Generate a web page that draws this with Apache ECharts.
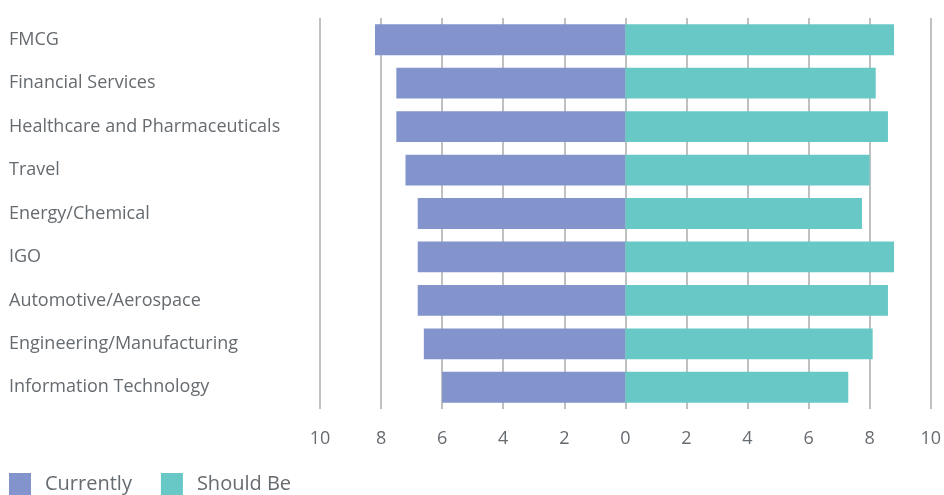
<!DOCTYPE html>
<html>
<head>
<meta charset="utf-8">
<script src="https://cdn.jsdelivr.net/npm/echarts@6/dist/echarts.min.js"></script>
<style>html,body{margin:0;padding:0;background:#fff}#c{width:944px;height:495px}</style>
</head>
<body>
<div id="c"></div>
<script>
const categories = ["FMCG","Financial Services","Healthcare and Pharmaceuticals","Travel","Energy/Chemical","IGO","Automotive/Aerospace","Engineering/Manufacturing","Information Technology"];
const currently = [8.2, 7.5, 7.5, 7.2, 6.8, 6.8, 6.8, 6.6, 6.0];
const shouldBe = [8.8, 8.2, 8.6, 8.0, 7.75, 8.8, 8.6, 8.1, 7.3];
const seriesNames = ["Currently", "Should Be"];

const chart = echarts.init(document.getElementById('c'), null, {renderer: 'canvas'});
const font = 'Open Sans';
const txt = '#666b70';
chart.setOption({
  animation: false,
  textStyle: {fontFamily: font},
  grid: {left: 320, right: 12, top: 18, height: 391},
  legend: {
    left: 4, top: 468, padding: 5, icon: 'rect', itemWidth: 22, itemHeight: 22, itemGap: 29,
    textStyle: {fontFamily: font, fontSize: 20, lineHeight: 22, color: txt, padding: [0, 0, 0, 9]},
    data: seriesNames
  },
  xAxis: {
    type: 'value', min: -10, max: 10, interval: 2,
    axisLine: {show: false}, axisTick: {show: false},
    splitLine: {show: true, lineStyle: {color: '#a9abae', width: 1.5}},
    axisLabel: {fontSize: 18, color: txt, margin: 21, formatter: v => Math.abs(v)}
  },
  yAxis: {
    type: 'category', inverse: true, data: categories,
    axisLine: {show: false}, axisTick: {show: false},
    axisLabel: {align: 'left', margin: 311, fontSize: 18, color: txt, padding: [4, 0, 0, 0]}
  },
  series: [
    {name: seriesNames[0], type: 'bar', stack: 's', barWidth: '71%',
     itemStyle: {color: '#8294cb'}, data: currently.map(v => -v)},
    {name: seriesNames[1], type: 'bar', stack: 's', barWidth: '71%',
     itemStyle: {color: '#68c8c6'}, data: shouldBe}
  ]
});
</script>
</body>
</html>
